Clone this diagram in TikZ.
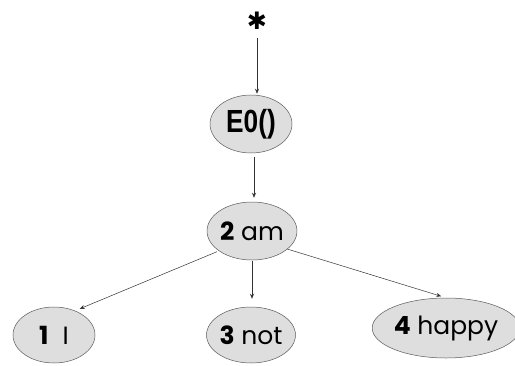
\documentclass[tikz,border=0pt]{standalone}
\usepackage{fontspec}
\setmainfont{Poppins}
\newfontfamily\boldsans{Liberation Sans}
\newfontfamily\starfont{DejaVu Sans}
\usetikzlibrary{shapes.geometric,arrows.meta}
\tikzset{
  word/.style={ellipse, draw=black!65, line width=0.5pt, fill=black!13, inner sep=0pt, font=\fontsize{25}{25}\selectfont},
  link/.style={draw=black!80, line width=0.5pt, -{Stealth[length=5pt,width=4pt]}}
}
\begin{document}
\begin{tikzpicture}[x=1pt,y=-1pt]
\useasboundingbox (0,0) rectangle (515,365);
\node[inner sep=0pt, minimum height=26pt, font=\starfont\fontsize{24}{24}\selectfont] (star) at (257,21) {✱};
\node[word, minimum width=82pt, minimum height=58pt] (e0) at (251,124) {\boldsans\bfseries\fontsize{32}{32}\selectfont\scalebox{0.82}[1]{E0()}};
\node[word, minimum width=82pt, minimum height=58pt] (am) at (252,231) {\textbf{2} am};
\node[word, minimum width=82pt, minimum height=56pt] (one) at (54,335) {\textbf{1}\hspace{0.3em} I};
\node[word, minimum width=80pt, minimum height=56pt] (not) at (251,335) {\textbf{3} not};
\node[word, minimum width=138pt, minimum height=60pt] (happy) at (446,328) {\textbf{4} happy};
\draw[link, shorten <=4pt, shorten >=1pt] (star.south) -- (star.south |- e0.north);
\draw[link, shorten <=4pt, shorten >=4pt] ([xshift=3pt]e0.south) -- ([xshift=3pt]e0.south |- am.north);
\draw[link, shorten <=2pt, shorten >=5pt] (am.211) -- (one.49);
\draw[link, shorten <=1pt, shorten >=8pt] (am.south) -- (am.south |- not.north);
\draw[link, shorten <=0pt, shorten >=5pt] (am.333) -- (happy.north);
\end{tikzpicture}
\end{document}
